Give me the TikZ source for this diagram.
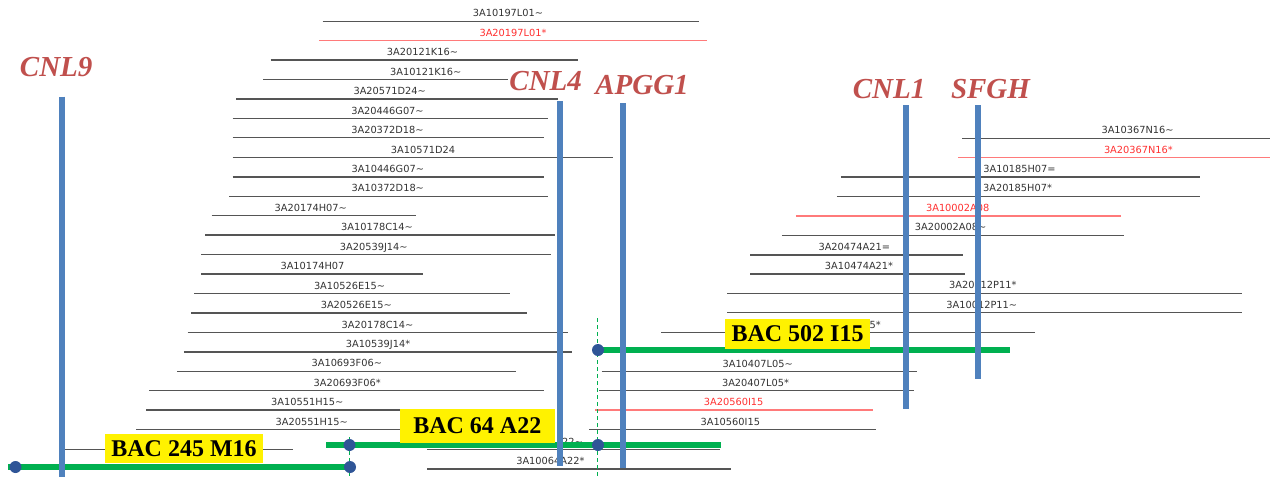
\documentclass[tikz,border=0pt]{standalone}
\usepackage{fontspec}
\usepackage{tikz}
\newfontfamily\clonefont{DejaVu Sans}
\newfontfamily\bacfont{Liberation Serif}
\definecolor{genblue}{HTML}{4F81BD}
\definecolor{genred}{HTML}{C0504D}
\definecolor{bacgreen}{HTML}{00B050}
\definecolor{dotblue}{HTML}{2F5597}
\definecolor{clonegray}{HTML}{555555}
\definecolor{clonered}{HTML}{FF7A7A}
\definecolor{labelred}{HTML}{FF3030}

\begin{document}
\begin{tikzpicture}[x=1pt, y=-1pt,
    clone/.style={draw=clonegray, line width=1.5pt},
    redclone/.style={draw=clonered, line width=1.5pt},
    lbl/.style={font=\clonefont\fontsize{9.8}{10}\selectfont, text=black!80, anchor=base, inner sep=0pt},
    redlbl/.style={lbl, text=labelred},
    gene/.style={draw=genblue, line width=6pt},
    genename/.style={font=\bacfont\bfseries\itshape\fontsize{29}{30}\selectfont, text=genred, anchor=base, inner sep=0pt},
    bacline/.style={draw=bacgreen, line width=6.5pt},
    anchorline/.style={draw=bacgreen, line width=1.1pt, dash pattern=on 4pt off 3pt},
    dot/.style={circle, fill=dotblue, minimum size=12pt, inner sep=0pt},
    bacbox/.style={fill=yellow, font=\bacfont\bfseries\fontsize{24}{26}\selectfont, inner sep=0pt}]
  \useasboundingbox (0,0) rectangle (1270,477);

  % Clones, left contig
  \draw[clone] (322.7,21.3) -- (699,21.3);
  \node[lbl] (l10197L01) at (508,16.8) {3A10197L01\textasciitilde};
  \draw[redclone] (319,40.7) -- (706.7,40.7);
  \node[redlbl] (l20197L01) at (513,36.2) {3A20197L01*};
  \draw[clone] (270.7,60) -- (578,60);
  \node[lbl] (l20121K16) at (422.5,55.5) {3A20121K16\textasciitilde};
  \draw[clone] (263,79.5) -- (508,79.5);
  \node[lbl] (l10121K16) at (425.8,75) {3A10121K16\textasciitilde};
  \draw[clone] (236,99.2) -- (558,99.2);
  \node[lbl] (l20571D24) at (389.7,94.7) {3A20571D24\textasciitilde};
  \draw[clone] (232.7,118.5) -- (547.7,118.5);
  \node[lbl] (l20446G07) at (387.5,114) {3A20446G07\textasciitilde};
  \draw[clone] (232.7,137.7) -- (544.3,137.7);
  \node[lbl] (l20372D18) at (387.5,133.2) {3A20372D18\textasciitilde};
  \draw[clone] (232.7,157.5) -- (612.7,157.5);
  \node[lbl] (l10571D24) at (423,153) {3A10571D24};
  \draw[clone] (232.7,176.8) -- (544.3,176.8);
  \node[lbl] (l10446G07) at (387.8,172.3) {3A10446G07\textasciitilde};
  \draw[clone] (229,196.3) -- (547.7,196.3);
  \node[lbl] (l10372D18) at (387.8,191.8) {3A10372D18\textasciitilde};
  \draw[clone] (211.7,215.7) -- (416.3,215.7);
  \node[lbl] (l20174H07) at (310.8,211.2) {3A20174H07\textasciitilde};
  \draw[clone] (205.3,235.2) -- (554.5,235.2);
  \node[lbl] (l10178C14) at (377,230.7) {3A10178C14\textasciitilde};
  \draw[clone] (201.3,254.5) -- (551,254.5);
  \node[lbl] (l20539J14) at (373.8,250) {3A20539J14\textasciitilde};
  \draw[clone] (201.3,274.2) -- (423.3,274.2);
  \node[lbl] (l10174H07) at (312.5,269.7) {3A10174H07};
  \draw[clone] (194,293.7) -- (510,293.7);
  \node[lbl] (l10526E15) at (349.5,289.2) {3A10526E15\textasciitilde};
  \draw[clone] (191,313.2) -- (527.3,313.2);
  \node[lbl] (l20526E15) at (356.3,308.7) {3A20526E15\textasciitilde};
  \draw[clone] (187.7,332.7) -- (568.3,332.7);
  \node[lbl] (l20178C14) at (377.5,328.2) {3A20178C14\textasciitilde};
  \draw[clone] (183.8,352) -- (572,352);
  \node[lbl] (l10539J14) at (378,347.5) {3A10539J14*};
  \draw[clone] (177,371.3) -- (515.8,371.3);
  \node[lbl] (l10693F06) at (346.8,366.8) {3A10693F06\textasciitilde};
  \draw[clone] (149.4,390.7) -- (544.3,390.7);
  \node[lbl] (l20693F06) at (347.2,386.2) {3A20693F06*};
  \draw[clone] (146.2,410) -- (540,410);
  \node[lbl] (l10551H15) at (307.3,405.5) {3A10551H15\textasciitilde};
  \draw[clone] (136.4,429.7) -- (545,429.7);
  \node[lbl] (l20551H15) at (311.7,425.2) {3A20551H15\textasciitilde};
  \draw[clone] (62,449.3) -- (293.3,449.3);
  \draw[clone] (427,449.5) -- (720,449.5);
  \node[lbl, anchor=base west] (l20064A22) at (562,445) {22\textasciitilde};
  \draw[clone] (427,469) -- (730.7,469);
  \node[lbl] (l10064A22) at (550.4,464.5) {3A10064A22*};

  % Clones, right contig
  \draw[clone] (962,138.3) -- (1270,138.3);
  \node[lbl] (l10367N16) at (1137.6,133.8) {3A10367N16\textasciitilde};
  \draw[redclone] (958,157.7) -- (1270,157.7);
  \node[redlbl] (l20367N16) at (1138.4,153.2) {3A20367N16*};
  \draw[clone] (840.8,177) -- (1200,177);
  \node[lbl] (l10185H07) at (1019.5,172.5) {3A10185H07=};
  \draw[clone] (836.8,196.3) -- (1200,196.3);
  \node[lbl] (l20185H07) at (1017.5,191.8) {3A20185H07*};
  \draw[redclone] (795.8,216) -- (1121,216);
  \node[redlbl] (l10002A08) at (957.7,211.5) {3A10002A08};
  \draw[clone] (781.8,235.3) -- (1124,235.3);
  \node[lbl] (l20002A08) at (950.6,230.8) {3A20002A08\textasciitilde};
  \draw[clone] (750.4,255) -- (962.5,255);
  \node[lbl] (l20474A21) at (854.3,250.5) {3A20474A21=};
  \draw[clone] (750.4,274) -- (965.3,274);
  \node[lbl] (l10474A21) at (859,269.5) {3A10474A21*};
  \draw[clone] (727,293.3) -- (1242.4,293.3);
  \node[lbl] (l20012P11) at (982.8,288.8) {3A20012P11*};
  \draw[clone] (727,312.7) -- (1242.4,312.7);
  \node[lbl] (l10012P11) at (981.8,308.2) {3A10012P11\textasciitilde};
  \draw[clone] (661,332.5) -- (1035,332.5);
  \node[lbl, anchor=base west] (l502I15) at (869.5,328) {5*};
  \draw[clone] (601.7,371.5) -- (917.3,371.5);
  \node[lbl] (l10407L05) at (757.7,367) {3A10407L05\textasciitilde};
  \draw[clone] (599,390.7) -- (914,390.7);
  \node[lbl] (l20407L05) at (755.5,386.2) {3A20407L05*};
  \draw[redclone] (595,410) -- (872.5,410);
  \node[redlbl] (l20560I15) at (733.7,405.5) {3A20560I15};
  \draw[clone] (589,429.7) -- (876,429.7);
  \node[lbl] (l10560I15) at (730.3,425.2) {3A10560I15};

  % BAC anchors
  \coordinate (p245w) at (8,467);
  \coordinate (p245e) at (350,467);
  \coordinate (p64w) at (326,445);
  \coordinate (p64e) at (720.7,445);
  \coordinate (p502w) at (598,350);
  \coordinate (p502e) at (1010,350);
  \draw[bacline] (p245w) -- (p245e);
  \draw[bacline] (p64w) -- (p64e);
  \draw[bacline] (p502w) -- (p502e);
  \draw[anchorline] (349.5,437) -- (349.5,477);
  \draw[anchorline] (597.5,318) -- (597.5,477);
  \node[dot] (d245w) at (15.5,467) {};
  \node[dot] (d245e) at (p245e) {};
  \node[dot] (d64w) at (349.5,445) {};
  \node[dot] (d64e) at (598,445) {};
  \node[dot] (d502w) at (p502w) {};

  % Genes
  \draw[gene] (61.7,96.7) -- (61.7,477);
  \draw[gene] (560,101) -- (560,466);
  \draw[gene] (623,103.3) -- (623,468);
  \draw[gene] (906.3,105) -- (906.3,408.7);
  \draw[gene] (978,105) -- (978,378.7);
  \node[genename] (gCNL9) at (56.2,76.5) {CNL9};
  \node[genename] (gCNL4) at (545.7,90) {CNL4};
  \node[genename] (gAPGG1) at (642,94.5) {APGG1};
  \node[genename] (gCNL1) at (889,98) {CNL1};
  \node[genename] (gSFGH) at (990.5,98) {SFGH};

  % BAC names
  \node[bacbox, minimum width=158pt, minimum height=29pt] (bac245) at (184,448.7) {BAC 245 M16};
  \node[bacbox, minimum width=154.5pt, minimum height=33.5pt] (bac64) at (477.3,425.9) {BAC 64 A22};
  \node[bacbox, minimum width=145pt, minimum height=30pt] (bac502) at (797.5,334) {BAC 502 I15};
\end{tikzpicture}
\end{document}
